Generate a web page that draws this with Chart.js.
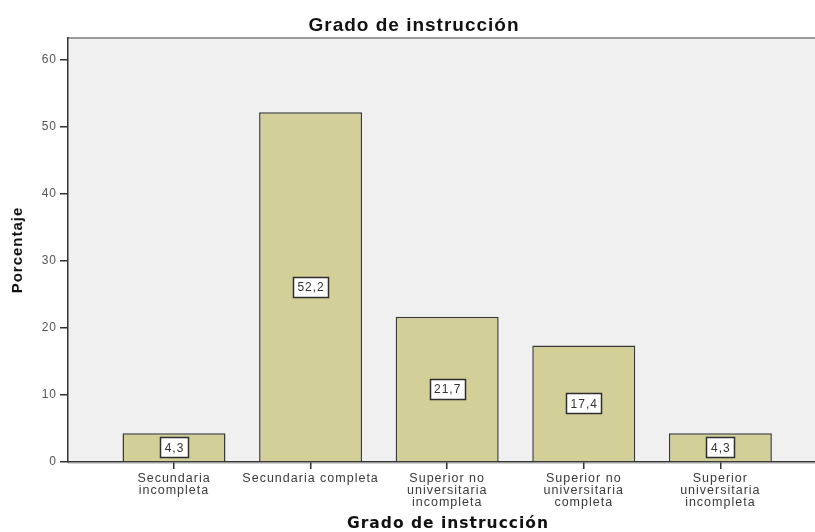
<!DOCTYPE html>
<html>
<head>
<meta charset="utf-8">
<script src="https://cdn.jsdelivr.net/npm/chart.js@4/dist/chart.umd.min.js"></script>
<style>
  html, body { margin: 0; padding: 0; background: #ffffff; overflow: hidden; }
  /* the reference looks cropped on the right, so the chart is a bit wider than the window */
  #wrap { width: 828px; height: 532px; }
</style>
</head>
<body>
<div id="wrap"><canvas id="myChart"></canvas></div>
<script>
// categories and percentages
const categories = [
  ['Secundaria', 'incompleta'],
  ['Secundaria completa'],
  ['Superior no', 'universitaria', 'incompleta'],
  ['Superior no', 'universitaria', 'completa'],
  ['Superior', 'universitaria', 'incompleta']
];
const percentages = [4.3, 52.2, 21.7, 17.4, 4.3];
const yTicks = [0, 10, 20, 30, 40, 50, 60];

const points = [];
percentages.forEach((v, i) => points.push({ x: i + 1, y: v }));

// SPSS text is drawn a little spread out
const spacing = {
  id: 'spacing',
  beforeUpdate(chart) { chart.ctx.letterSpacing = '1px'; },
  beforeLayout(chart) { chart.ctx.letterSpacing = '1px'; },
  beforeDraw(chart) { chart.ctx.letterSpacing = '1px'; }
};

// gray plot background + frame line on top
const plotBackground = {
  id: 'plotBackground',
  beforeDraw(chart) {
    const { ctx, chartArea: a } = chart;
    ctx.save();
    ctx.fillStyle = '#f0f0f0';
    ctx.fillRect(a.left, a.top, a.right - a.left, a.bottom - a.top);
    ctx.strokeStyle = '#9c9c9c';
    ctx.lineWidth = 2;
    ctx.beginPath();
    ctx.moveTo(a.left, a.top);
    ctx.lineTo(a.right, a.top);
    ctx.stroke();
    ctx.strokeStyle = '#d0d0d0';
    ctx.lineWidth = 1;
    ctx.beginPath();
    ctx.moveTo(a.left, a.bottom + 1.5);
    ctx.lineTo(a.right, a.bottom + 1.5);
    ctx.stroke();
    ctx.restore();
  }
};

// boxed value labels in the middle of each bar
const valueBoxes = {
  id: 'valueBoxes',
  afterDatasetsDraw(chart) {
    const { ctx } = chart;
    const meta = chart.getDatasetMeta(0);
    ctx.save();
    ctx.font = '12px "Liberation Sans", Arial, sans-serif';
    ctx.textAlign = 'center';
    ctx.textBaseline = 'middle';
    meta.data.forEach((bar, i) => {
      const txt = percentages[i].toFixed(1).replace('.', ',');
      const cx = bar.x;
      const cy = (bar.y + bar.base) / 2;
      const w = Math.round(ctx.measureText(txt).width + 8);
      const h = 20;
      const x0 = Math.round(cx - w / 2) + 0.5;
      const y0 = Math.round(cy - h / 2) + 0.5;
      ctx.fillStyle = '#ffffff';
      ctx.fillRect(x0, y0, w, h);
      ctx.strokeStyle = '#2e2e2e';
      ctx.lineWidth = 1.5;
      ctx.strokeRect(x0, y0, w, h);
      ctx.fillStyle = '#333333';
      ctx.fillText(txt, cx + 0.5, cy + 1);
    });
    ctx.restore();
  }
};

const ctx = document.getElementById('myChart');
const myChart = new Chart(ctx, {
  type: 'bar',
  data: {
    datasets: [{
      label: 'Porcentaje',
      data: points,
      backgroundColor: '#d3cf98',
      borderColor: '#3a3a3a',
      borderWidth: 1.5,
      borderSkipped: 'bottom',
      barPercentage: 0.754,
      categoryPercentage: 1
    }]
  },
  options: {
    responsive: true,
    maintainAspectRatio: false,
    animation: false,
    layout: { padding: 0 },
    plugins: {
      legend: { display: false },
      tooltip: { enabled: false },
      title: {
        display: true,
        text: 'Grado de instrucción',
        color: '#111111',
        font: { family: '"Liberation Sans", Arial, sans-serif', size: 19, weight: 'bold', lineHeight: 1.2 },
        padding: { top: 14.5, bottom: 0.7 }
      }
    },
    scales: {
      x: {
        type: 'linear',
        offset: false,
        min: 0.224,
        max: 5.788,
        afterBuildTicks(scale) {
          scale.ticks = categories.map((c, i) => ({ value: i + 1 }));
        },
        afterFit(scale) { scale.height = 70; },
        grid: { display: true, offset: false, drawOnChartArea: false, drawTicks: true, tickLength: 7, color: '#333333', lineWidth: 1.5 },
        border: { display: true, color: '#333333', width: 1.5 },
        ticks: {
          autoSkip: false,
          maxRotation: 0,
          padding: 4,
          color: '#3a3a3a',
          font: { family: '"Liberation Sans", Arial, sans-serif', size: 12.5, lineHeight: 0.94 },
          callback: (v) => categories[v - 1]
        },
        title: {
          display: true,
          text: 'Grado de instrucción',
          color: '#111111',
          font: { family: '"DejaVu Sans", Verdana, sans-serif', size: 15.5, weight: 'bold', lineHeight: 1 },
          padding: { top: 0, bottom: 0 }
        }
      },
      y: {
        min: 0,
        max: 63.3,
        afterBuildTicks(scale) {
          scale.ticks = yTicks.map(v => ({ value: v }));
        },
        afterFit(scale) { scale.width = 68; },
        grid: { display: true, drawOnChartArea: false, drawTicks: true, tickLength: 8, color: '#333333', lineWidth: 1.5 },
        border: { display: true, color: '#333333', width: 1.5 },
        ticks: {
          padding: 3,
          color: '#555555',
          font: { family: '"Liberation Sans", Arial, sans-serif', size: 12 }
        },
        title: {
          display: true,
          text: 'Porcentaje',
          color: '#111111',
          font: { family: '"Liberation Sans", Arial, sans-serif', size: 15, weight: 'bold', lineHeight: 1.2 },
          padding: { top: 9, bottom: 0 }
        }
      }
    }
  },
  plugins: [spacing, plotBackground, valueBoxes]
});
</script>
</body>
</html>
